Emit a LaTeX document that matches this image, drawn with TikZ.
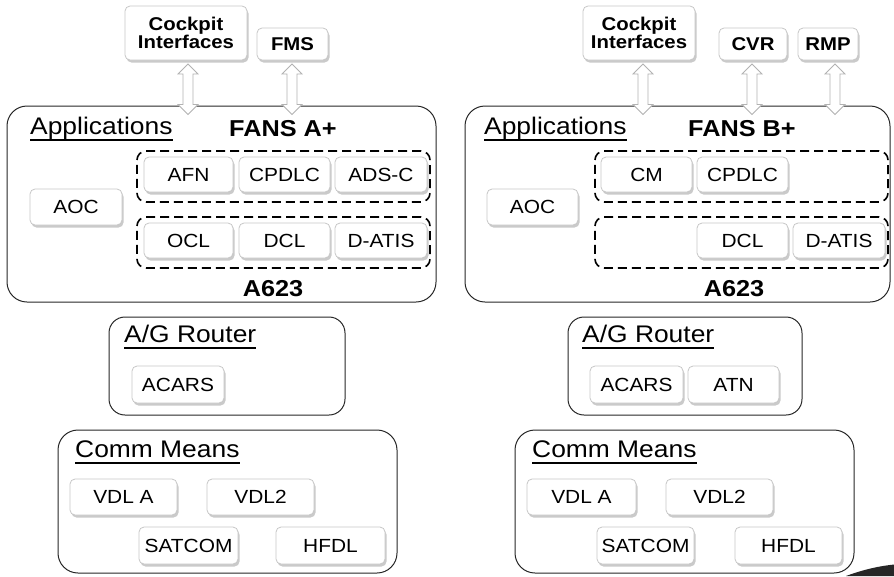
\documentclass[tikz,border=0pt]{standalone}
\usepackage{fontspec}
\setmainfont{Liberation Sans}[FakeStretch=1.1]
\usetikzlibrary{shadows,calc}
\newcommand\ulhead[1]{\setbox0\hbox{#1}\leavevmode\rlap{\rule[-7pt]{\wd0}{1.8pt}}\box0}
\newcommand\dblarr[2]{%
  \path #1 coordinate (atop) #2 coordinate (abot);
  \draw[hollowarrow] let \p1=(atop), \p2=(abot) in
    (\x1,\y1) -- (\x1+10pt,\y1-10pt) -- (\x1+5pt,\y1-10pt) -- (\x1+5pt,\y2+10pt)
    -- (\x1+10pt,\y2+10pt) -- (\x1,\y2) -- (\x1-10pt,\y2+10pt) -- (\x1-5pt,\y2+10pt)
    -- (\x1-5pt,\y1-10pt) -- (\x1-10pt,\y1-10pt) -- cycle;}
\tikzset{
  lbox/.style={draw=black!22, fill=white, line width=0.8pt, rounded corners=5pt,
    drop shadow={shadow xshift=1.5pt, shadow yshift=-2.5pt, opacity=0.35, fill=black!60},
    inner sep=0pt, font=\fontsize{19}{22}\selectfont},
  tbox/.style={lbox, font=\bfseries\fontsize{18.5}{20}\selectfont, align=center},
  container/.style={draw=black!85, line width=1pt, inner sep=0pt},
  dashbox/.style={draw=black, line width=1.6pt, dash pattern=on 9pt off 5pt,
    rounded corners=9pt, inner sep=0pt},
  head/.style={anchor=base west, inner sep=0pt, font=\fontsize{24}{28}\selectfont},
  bhead/.style={anchor=base, inner sep=0pt, font=\bfseries\fontsize{23}{27}\selectfont},
  hollowarrow/.style={draw=black!30, fill=white, line width=0.8pt, line join=miter}
}
\begin{document}
\begin{tikzpicture}[x=1pt,y=-1pt]
\useasboundingbox (0,0) rectangle (894,576);
% ---------------- LEFT ----------------
\node[container, rounded corners=20pt, minimum width=429pt, minimum height=196pt] (appsL) at (221.5,204) {};
\node[dashbox, minimum width=293pt, minimum height=51pt] (dashL1) at (283.5,176.5) {};
\node[dashbox, minimum width=293pt, minimum height=51pt] (dashL2) at (283.5,242.5) {};
\node[tbox, minimum width=122pt, minimum height=54pt] (ciL) at (186,33) {Cockpit\\[-2pt]Interfaces};
\node[tbox, minimum width=71pt, minimum height=32pt] (fmsL) at (292.5,44) {FMS};
\coordinate (aL1) at (188,64);
\coordinate (aL2) at (292,64);
\dblarr{(aL1)}{($(aL1 |- appsL.north)+(0,9)$)}
\dblarr{(aL2)}{($(aL2 |- appsL.north)+(0,9)$)}
\node[head] (appL) at (30,134) {\ulhead{Applications}};
\node[bhead] (fansA) at (283,136) {FANS A+};
\node[bhead] (a623L) at (273,296) {A623};
\node[lbox, minimum width=92pt, minimum height=36pt] (aocL) at (76,207) {AOC};
\node[lbox, minimum width=89pt, minimum height=35pt] (afn) at (188.5,174.5) {AFN};
\node[lbox, minimum width=91pt, minimum height=35pt] (cpdlcL) at (284.5,174.5) {CPDLC};
\node[lbox, minimum width=92pt, minimum height=35pt] (adsc) at (381,174.5) {ADS-C};
\node[lbox, minimum width=89pt, minimum height=35pt] (ocl) at (188.5,240.5) {OCL};
\node[lbox, minimum width=91pt, minimum height=35pt] (dclL) at (284.5,240.5) {DCL};
\node[lbox, minimum width=92pt, minimum height=35pt] (datisL) at (381,240.5) {D-ATIS};
% router
\node[container, rounded corners=16pt, minimum width=236pt, minimum height=98pt] (agL) at (227,366) {};
\node[head] (agLt) at (124,342) {\ulhead{A/G Router}};
\node[lbox, minimum width=92pt, minimum height=37pt] (acarsL) at (178,384.5) {ACARS};
% comm means
\node[container, rounded corners=20pt, minimum width=339pt, minimum height=143pt] (cmL) at (227.5,501.5) {};
\node[head] (cmLt) at (75,457) {\ulhead{Comm Means}};
\node[lbox, minimum width=107pt, minimum height=36pt] (vdlaL) at (123.5,497) {VDL A};
\node[lbox, minimum width=107pt, minimum height=36pt] (vdl2L) at (260.5,497) {VDL2};
\node[lbox, minimum width=99pt, minimum height=37pt] (satL) at (188.5,545.5) {SATCOM};
\node[lbox, minimum width=109pt, minimum height=37pt] (hfdlL) at (330.5,545.5) {HFDL};
% ---------------- RIGHT ----------------
\node[container, rounded corners=20pt, minimum width=425pt, minimum height=196pt] (appsR) at (677.5,204) {};
\node[dashbox, minimum width=293pt, minimum height=51pt] (dashR1) at (741.5,176.5) {};
\node[dashbox, minimum width=293pt, minimum height=51pt] (dashR2) at (741.5,242.5) {};
\node[tbox, minimum width=112pt, minimum height=54pt] (ciR) at (639,33) {Cockpit\\[-2pt]Interfaces};
\node[tbox, minimum width=68pt, minimum height=32pt] (cvr) at (753,44) {CVR};
\node[tbox, minimum width=60pt, minimum height=32pt] (rmp) at (828,44) {RMP};
\coordinate (aR1) at (643,64);
\coordinate (aR2) at (752,64);
\coordinate (aR3) at (835,64);
\dblarr{(aR1)}{($(aR1 |- appsR.north)+(0,9)$)}
\dblarr{(aR2)}{($(aR2 |- appsR.north)+(0,9)$)}
\dblarr{(aR3)}{($(aR3 |- appsR.north)+(0,9)$)}
\node[head] (appR) at (484,134) {\ulhead{Applications}};
\node[bhead] (fansB) at (742,136) {FANS B+};
\node[bhead] (a623R) at (734,296) {A623};
\node[lbox, minimum width=91pt, minimum height=36pt] (aocR) at (532.5,207) {AOC};
\node[lbox, minimum width=91pt, minimum height=35pt] (cm) at (646.5,174.5) {CM};
\node[lbox, minimum width=91pt, minimum height=35pt] (cpdlcR) at (742.5,174.5) {CPDLC};
\node[lbox, minimum width=91pt, minimum height=35pt] (dclR) at (742.5,240.5) {DCL};
\node[lbox, minimum width=92pt, minimum height=35pt] (datisR) at (839,240.5) {D-ATIS};
% router
\node[container, rounded corners=16pt, minimum width=234pt, minimum height=98pt] (agR) at (685,366) {};
\node[head] (agRt) at (582,342) {\ulhead{A/G Router}};
\node[lbox, minimum width=93pt, minimum height=37pt] (acarsR) at (636.5,384.5) {ACARS};
\node[lbox, minimum width=91pt, minimum height=37pt] (atn) at (733.5,384.5) {ATN};
% comm means
\node[container, rounded corners=20pt, minimum width=339pt, minimum height=143pt] (cmR) at (684.5,501.5) {};
\node[head] (cmRt) at (532,457) {\ulhead{Comm Means}};
\node[lbox, minimum width=109pt, minimum height=36pt] (vdlaR) at (581.5,497) {VDL A};
\node[lbox, minimum width=107pt, minimum height=36pt] (vdl2R) at (719.5,497) {VDL2};
\node[lbox, minimum width=97pt, minimum height=37pt] (satR) at (645.5,545.5) {SATCOM};
\node[lbox, minimum width=107pt, minimum height=37pt] (hfdlR) at (788.5,545.5) {HFDL};
% corner swoosh
\fill[black!85] (846,576) .. controls (865,569) and (880,566) .. (894,564.5) -- (894,576) -- cycle;
\end{tikzpicture}
\end{document}
